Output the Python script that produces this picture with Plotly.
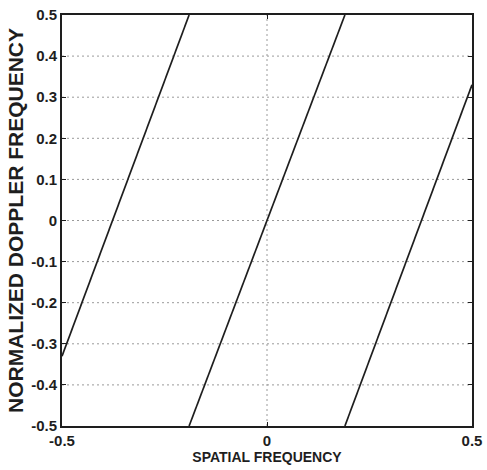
import plotly.graph_objects as go

# Clutter ridge segments (spatial frequency vs. normalized Doppler), wrapped into [-0.5, 0.5]
seg_a_x = [-0.5, -0.19]
seg_a_y = [-0.33, 0.5]
seg_b_x = [-0.19, 0.19]
seg_b_y = [-0.5, 0.5]
seg_c_x = [0.19, 0.5]
seg_c_y = [-0.5, 0.33]

x_ticks = [-0.5, 0, 0.5]
x_tick_text = ["-0.5", "0", "0.5"]
y_ticks = [-0.5, -0.4, -0.3, -0.2, -0.1, 0, 0.1, 0.2, 0.3, 0.4, 0.5]
y_tick_text = ["-0.5", "-0.4", "-0.3", "-0.2", "-0.1", "0", "0.1", "0.2", "0.3", "0.4", "0.5"]

FONT = "Liberation Sans, Arial, Helvetica, sans-serif"
INK = "#1e1e1e"
GRID = "#9a9a9a"

fig = go.Figure()
for xs, ys in [(seg_a_x, seg_a_y), (seg_b_x, seg_b_y), (seg_c_x, seg_c_y)]:
    fig.add_trace(go.Scatter(x=xs, y=ys, mode="lines",
                             line=dict(color=INK, width=1.7),
                             showlegend=False, hoverinfo="skip"))

# dotted reference line at zero spatial frequency
fig.add_shape(type="line", x0=0, x1=0, y0=-0.5, y1=0.5, xref="x", yref="y",
              line=dict(color=GRID, width=1, dash="2px,3px"), layer="below")
# dotted horizontal grid
for v in y_ticks[1:-1]:
    fig.add_shape(type="line", x0=-0.5, x1=0.5, y0=v, y1=v, xref="x", yref="y",
                  line=dict(color=GRID, width=1, dash="2px,3px"), layer="below")

axis_common = dict(showgrid=False, zeroline=False, showline=True, linecolor=INK,
                   linewidth=1.7, mirror="ticks", ticks="inside", ticklen=4,
                   tickwidth=1.3, tickcolor=INK, automargin=False,
                   tickfont=dict(family=FONT, size=15, color=INK, weight="bold"))

fig.update_layout(
    width=487, height=470,
    margin=dict(l=62, r=15, t=15, b=44),
    paper_bgcolor="white", plot_bgcolor="white",
    xaxis=dict(range=[-0.5, 0.5], tickvals=x_ticks, ticktext=x_tick_text,
               ticklabelstandoff=0,
               title=dict(text="SPATIAL FREQUENCY", standoff=1,
                          font=dict(family=FONT, size=14, color=INK, weight="bold")),
               **axis_common),
    yaxis=dict(range=[-0.5, 0.5], tickvals=y_ticks, ticktext=y_tick_text,
               title=dict(text="NORMALIZED DOPPLER FREQUENCY", standoff=2,
                          font=dict(family=FONT, size=21, color=INK, weight="bold")),
               **axis_common),
)

fig.write_html("out.html")
